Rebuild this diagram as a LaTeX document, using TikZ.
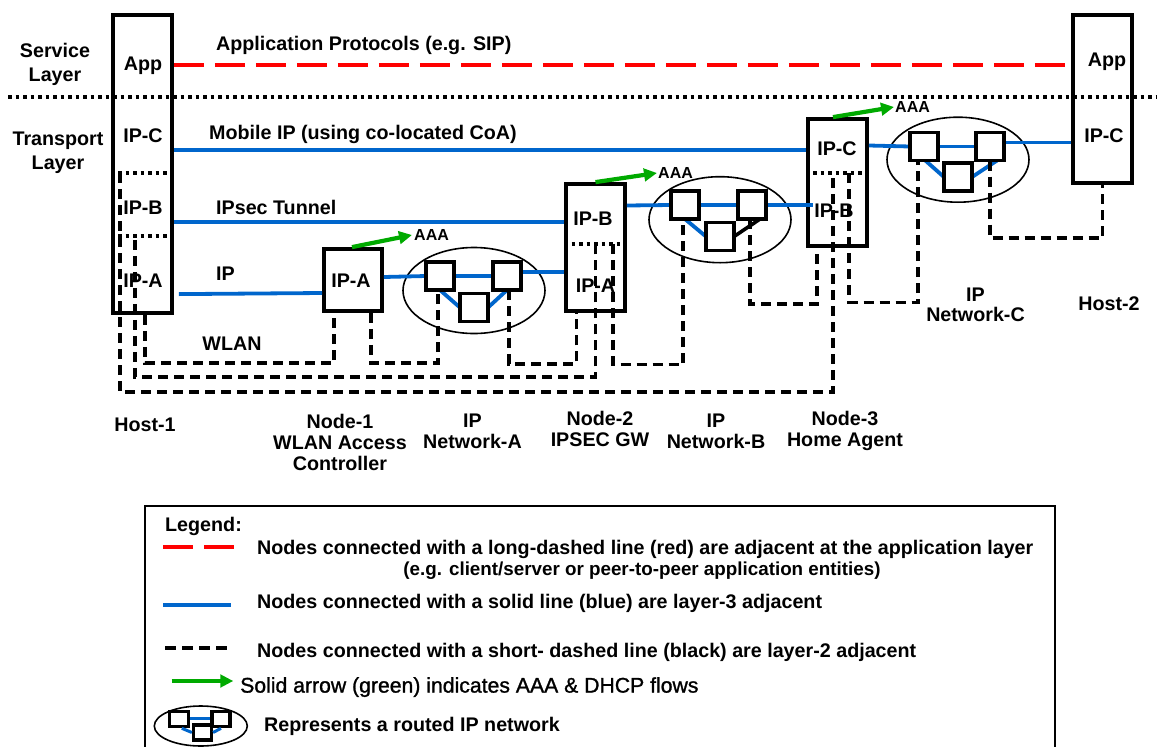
\documentclass[tikz,border=0pt]{standalone}
\usepackage{fontspec}
\setmainfont{Liberation Sans}
\usetikzlibrary{arrows.meta,shapes.geometric,calc}

\definecolor{lthreeblue}{RGB}{0,102,204}
\definecolor{appred}{RGB}{255,0,0}
\definecolor{aaagreen}{RGB}{0,170,0}

\tikzset{
  lbl/.style={font=\fontsize{19.7}{22}\selectfont\bfseries, inner sep=0pt, text height=14.1pt, text depth=0pt},
  mlbl/.style={font=\fontsize{19.7}{21}\selectfont\bfseries, inner sep=0pt, align=center, anchor=north},
  aaalbl/.style={font=\fontsize{16}{18}\selectfont\bfseries, inner sep=0pt, anchor=west, text height=11.5pt, text depth=0pt},
  stack/.style={draw, line width=3.8pt, inner sep=0pt, minimum width=59pt},
  router/.style={draw, line width=3.6pt, fill=white, inner sep=0pt, minimum size=24.5pt},
  ipnet/.style={draw, ellipse, line width=1.6pt, inner sep=0pt, minimum width=142pt, minimum height=86pt},
  lthree/.style={draw=lthreeblue, line width=3.8pt},
  ltwo/.style={draw=black, line width=3.3pt, dash pattern=on 10pt off 6pt},
  applink/.style={draw=appred, line width=4.2pt, dash pattern=on 30pt off 11pt},
  sepline/.style={draw=black, line width=3.8pt, dash pattern=on 3.6pt off 3.9pt},
  aaaflow/.style={draw=aaagreen, line width=4.2pt, -{Triangle[length=13pt,width=12.5pt]}},
}

\begin{document}
\begin{tikzpicture}[x=1pt,y=-1pt]
\useasboundingbox (0,0) rectangle (1157,747);

% ---------- routed IP networks ----------
\node[ipnet] (neta) at (474,290.5) {};
\node[ipnet] (netb) at (720,219.7) {};
\node[ipnet, minimum height=85pt] (netc) at (958,159.7) {};

% ---------- protocol stacks ----------
\node[stack, minimum height=298pt] (host1) at (142.5,164) {};
\node[stack, minimum height=62pt, minimum width=58pt] (node1) at (353,280) {};
\node[stack, minimum height=127pt] (node2) at (595.5,247.5) {};
\node[stack, minimum height=127pt] (node3) at (837.5,182.5) {};
\node[stack, minimum height=168pt] (host2) at (1102.5,99) {};

% routers
\node[router] (ra1) at (440,276) {};
\node[router] (ra2) at (507,276) {};
\node[router] (ra3) at (474,307.5) {};
\node[router] (rb1) at (685,205) {};
\node[router] (rb2) at (752,205) {};
\node[router] (rb3) at (720,236.5) {};
\node[router] (rc1) at (924,146.5) {};
\node[router] (rc2) at (990,146.5) {};
\node[router] (rc3) at (958,177) {};

% ---------- layer-3 links ----------
\coordinate (mipl) at ($(host1.north east)+(0,137)$);
\draw[lthree] (mipl) -- (mipl -| node3.west);
\coordinate (ipsl) at ($(host1.north east)+(0,209)$);
\draw[lthree] (ipsl) -- (ipsl -| node2.west);
\draw[lthree] ($(host1.north east)+(5,281)$) -- ($(node1.west)+(0,13)$);
\draw[lthree] ($(node1.east)+(0,-3)$) -- (ra1.west);
\draw[lthree] (ra1.east) -- (ra2.west);
\draw[lthree] (ra1.south) -- (ra3.west);
\draw[lthree] (ra3.east) -- (ra2.south);
\coordinate (ra2o) at ($(ra2.east)+(0,-4)$);
\draw[lthree] (ra2o) -- (ra2o -| node2.west);
\draw[lthree] ($(node2.east)+(0,-42)$) -- (rb1.west);
\draw[lthree] (rb1.east) -- (rb2.west);
\draw[lthree] (rb1.south) -- (rb3.west);
\draw[line width=3.6pt] (rb3.east) -- ($(rb2.south)+(8,0)$);
\draw[lthree] (rb2.east) -- ($(rb2.east -| node3.west)+(7,0)$);
\draw[lthree] ($(node3.east)+(0,-37)$) -- (rc1.west);
\draw[lthree] (rc1.east) -- (rc2.west);
\draw[lthree] ($(rc1.south)+(-2,-3)$) -- (rc3.west);
\draw[lthree] (rc3.east) -- ($(rc2.south)+(7,0)$);
\coordinate (rc2o) at ($(rc2.east)+(0,-4)$);
\draw[lthree] (rc2o) -- (rc2o -| host2.west);

% router outlines above the link ends
\foreach \r in {ra1,ra2,ra3,rb1,rb2,rb3,rc1,rc2,rc3}
  \draw[line width=3.6pt, fill=white] (\r.south west) rectangle (\r.north east);

% ---------- layer names inside the stacks ----------
\node[lbl] (h1app) at (143,63) {App};
\node[lbl] (h1c) at (143,135) {IP-C};
\node[lbl] (h1b) at (143,207) {IP-B};
\node[lbl] (h1a) at (143,280) {IP-A};
\node[lbl] (n1a) at (351,280) {IP-A};
\node[lbl] (n2b) at (593,218) {IP-B};
\node[lbl] (n2a) at (595.5,285) {IP-A};
\node[lbl] (n3c) at (837,148) {IP-C};
\node[lbl] (n3b) at (834,210) {IP-B};
\node[lbl] (h2app) at (1107,59) {App};
\node[lbl] (h2c) at (1104,135) {IP-C};

% layer separators inside the stacks
\draw[sepline] ($(host1.north west)+(7,160)$) -- ($(host1.north east)+(0,160)$);
\draw[sepline] ($(host1.north west)+(7,223)$) -- ($(host1.north east)+(0,223)$);
\draw[sepline] ($(node2.north west)+(0,62)$) -- ($(node2.north east)+(0,62)$);
\draw[sepline] ($(node3.north west)+(7,56)$) -- ($(node3.north east)+(0,56)$);

% ---------- layer-2 links ----------
\draw[ltwo] ($(host1.south)+(2.5,0)$) |- ($(node1.south)+(-19,50)$) -- ($(node1.south)+(-19,0)$);
\draw[ltwo] ($(node1.south)+(18,0)$) |- ($(ra1.south)+(-2,73)$) -- ($(ra1.south)+(-2,0)$);
\draw[ltwo] ($(ra2.south)+(2,0)$) |- ($(node2.south)+(-19,51)$) -- ($(node2.south)+(-19,0)$);
\draw[ltwo] ($(host1.south)+(-7.5,-75)$) |- ($(node2.south)+(0,64)$) -- ($(node2.north)+(0,62)$);
\draw[ltwo] ($(node2.north)+(17.5,62)$) |- ($(rb1.south)+(-2,145.5)$) -- ($(rb1.south)+(-2,0)$);
\draw[ltwo] ($(rb2.south)+(-2,0)$) |- ($(node3.south)+(-20.5,56)$) -- ($(node3.south)+(-20.5,0)$);
\draw[ltwo] ($(host1.north west)+(9,160)$) |- ($(node3.south)+(-4.5,144)$) -- ($(node3.north)+(-4.5,56)$);
\draw[ltwo] ($(node3.north)+(11.5,56)$) |- ($(rc1.south)+(-6,142)$) -- ($(rc1.south)+(-6,0)$);
\draw[ltwo] (rc2.south) |- ($(host2.south)+(0,53)$) -- (host2.south);

% ---------- service / transport divider ----------
\coordinate (divl) at (8,97);
\coordinate (divr) at (1157,97);
\draw[sepline] (divl) -- (divr);

% ---------- application adjacency ----------
\coordinate (appl) at ($(host1.north east)+(0,52)$);
\draw[applink] (appl) -- (appl -| host2.west);

% ---------- AAA / DHCP flows ----------
\node[aaalbl] (aaa1) at (414,235) {AAA};
\draw[aaaflow] ($(node1.north)+(-1,0)$) -- ($(aaa1.west)+(-2,0)$);
\node[aaalbl] (aaa2) at (658,173) {AAA};
\draw[aaaflow] (node2.north) -- ($(aaa2.west)+(-1,0)$);
\node[aaalbl] (aaa3) at (895,107) {AAA};
\draw[aaaflow] ($(node3.north)+(-4.5,0)$) -- ($(aaa3.west)+(-1,0)$);

% ---------- link and layer captions ----------
\node[mlbl, font=\fontsize{19.7}{24}\selectfont\bfseries] (svc) at (55,42.9) {Service\\Layer};
\node[mlbl, font=\fontsize{19.7}{24}\selectfont\bfseries] (trn) at (58,131.9) {Transport\\Layer};
\node[lbl, anchor=west] (appproto) at (216,43.3) {Application Protocols (e.g. SIP)};
\node[lbl, anchor=west] (miplbl) at (209,132) {Mobile IP (using co-located CoA)};
\node[lbl, anchor=west] (ipseclbl) at (216,207) {IPsec Tunnel};
\node[lbl, anchor=west] (iplbl) at (216,273) {IP};
\node[lbl] (wlanlbl) at (232,343) {WLAN};

% ---------- element names ----------
\node[lbl] (host1lbl) at (145,424) {Host-1};
\node[mlbl] (node1lbl) at (340,413.6) {Node-1\\WLAN Access\\Controller};
\node[mlbl] (netalbl) at (472.5,413.6) {IP\\Network-A};
\node[mlbl] (node2lbl) at (600,411.2) {Node-2\\IPSEC GW};
\node[mlbl] (netblbl) at (716,414) {IP\\Network-B};
\node[mlbl] (node3lbl) at (845,411.2) {Node-3\\Home Agent};
\node[mlbl, font=\fontsize{19.7}{20}\selectfont\bfseries] (netclbl) at (975.5,288) {IP\\Network-C};
\node[lbl] (host2lbl) at (1109,303) {Host-2};

% ---------- legend ----------
\draw[line width=1.6pt] (145,752) |- (1055,506) -- (1055,752);
\node[lbl, anchor=west] (legtitle) at (165,524) {Legend:};

\coordinate (lga) at (163,547);
\coordinate (lgb) at (235,547);
\draw[applink] (lga) -- (lgb);
\node[lbl, anchor=west] (lgtxta) at (257,547.7)
  {Nodes connected with a long-dashed line (red) are adjacent at the application layer};
\node[lbl, font=\fontsize{18.8}{21}\selectfont\bfseries, text height=13.5pt] (lgtxta2) at (642,569)
  {(e.g. client/server or peer-to-peer application entities)};

\coordinate (lgc) at (163,605);
\coordinate (lgd) at (231,605);
\draw[lthree] (lgc) -- (lgd);
\node[lbl, anchor=west] (lgtxtb) at (257,601) {Nodes connected with a solid line (blue) are layer-3 adjacent};

\coordinate (lge) at (165,648);
\coordinate (lgf) at (227,648);
\draw[ltwo, dash pattern=on 11pt off 6pt] (lge) -- (lgf);
\node[lbl, anchor=west] (lgtxtc) at (257,650.7) {Nodes connected with a short- dashed line (black) are layer-2 adjacent};

\coordinate (lgg) at (171.7,681);
\coordinate (lgh) at (233.3,681);
\draw[aaaflow] (lgg) -- (lgh);
\node[lbl, anchor=west, font=\fontsize{21.2}{23}\selectfont\addfontfeatures{FakeBold=1.2}, text height=15.2pt] (lgtxtd) at (240,685) {Solid arrow (green) indicates AAA \& DHCP flows};

\node[draw, ellipse, line width=1.6pt, inner sep=0pt, minimum width=93pt, minimum height=40pt] (lgnet) at (200.8,726) {};
\node[draw, line width=3.2pt, fill=white, inner sep=0pt, minimum width=19pt, minimum height=15pt] (lgr1) at (178.8,719.2) {};
\node[draw, line width=3.2pt, fill=white, inner sep=0pt, minimum width=18pt, minimum height=15pt] (lgr2) at (221,719.2) {};
\node[draw, line width=3.2pt, fill=white, inner sep=0pt, minimum width=18pt, minimum height=15pt] (lgr3) at (202.5,732.5) {};
\draw[lthree, line width=3pt] ($(lgr1.east)+(0,-1)$) -- ($(lgr2.west)+(0,-1)$);
\draw[lthree, line width=3pt] ($(lgr1.south)+(3,0)$) -- (lgr3.west);
\draw[lthree, line width=3pt] (lgr2.south) -- (lgr3.east);
\node[lbl, anchor=west] (lgtxte) at (264,724) {Represents a routed IP network};

\end{tikzpicture}
\end{document}
